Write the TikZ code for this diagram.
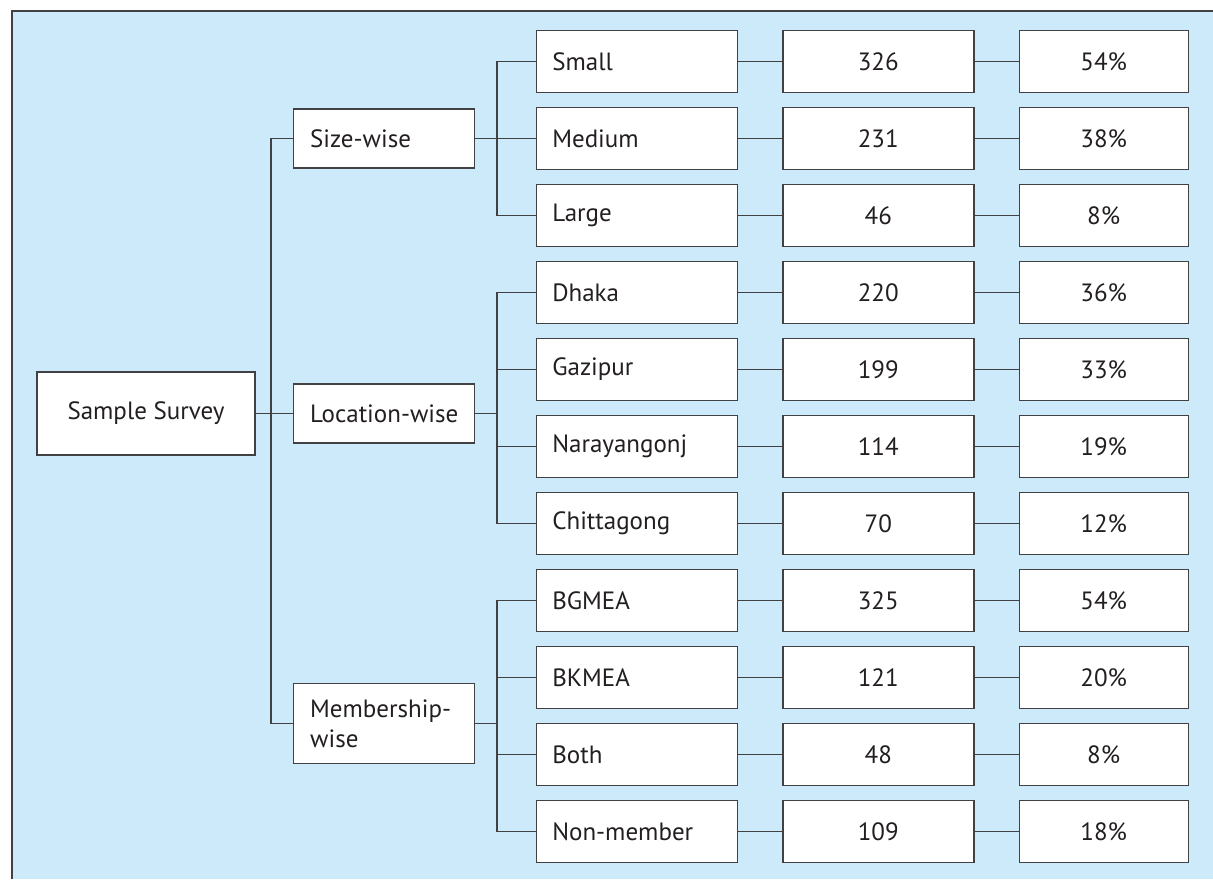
\documentclass[tikz,border=0pt]{standalone}
\usepackage{fontspec}
\setmainfont{PT Sans}
\definecolor{bgblue}{RGB}{204,234,250}
\definecolor{linegray}{RGB}{65,64,66}
\definecolor{txt}{RGB}{35,31,32}

\begin{document}
\begin{tikzpicture}[x=1pt,y=-1pt,
	box/.style={shape=rectangle,draw=linegray,line width=1.4pt,fill=white,text=txt,font=\fontsize{25}{30}\selectfont,minimum height=62pt,inner ysep=0pt},
	cat/.style={box,text width=169pt,inner xsep=16pt,align=left},
	grp/.style={box,text width=147pt,inner xsep=17pt,align=left,minimum height=59pt},
	num/.style={box,minimum width=191pt},
	pct/.style={box,minimum width=169pt},
	link/.style={draw=linegray,line width=1.2pt}]
	\useasboundingbox (0,0) rectangle (1213,879);
	% background panel
	\fill[bgblue] (12,11) rectangle (1213,879);
	\draw[linegray,line width=1.5pt] (12,879) -- (12,11) -- (1213,11);
	\coordinate (s1) at (271,0);
	\coordinate (s2) at (497,0);
	% root and groups
	\node[box,minimum width=218pt,minimum height=83pt](root) at (146,413.5) {Sample Survey};
	\node[grp](size) at (383.7,138.5) {Size-wise};
	\node[grp](loc) at (383.7,413.5) {\mbox{Location-wise}};
	\node[grp,minimum height=80pt](memb) at (383.7,723.5) {Membership-\\wise};
	% categories
	\node[cat](small) at (636.8,61.5) {Small};
	\node[cat](medium) at (636.8,138.5) {Medium};
	\node[cat](large) at (636.8,215.5) {Large};
	\node[cat](dhaka) at (636.8,292.5) {Dhaka};
	\node[cat](gazi) at (636.8,369.5) {Gazipur};
	\node[cat](nara) at (636.8,446.5) {Narayangonj};
	\node[cat](chit) at (636.8,523.5) {Chittagong};
	\node[cat](bgmea) at (636.8,600.5) {BGMEA};
	\node[cat](bkmea) at (636.8,677.5) {BKMEA};
	\node[cat](both) at (636.8,754.5) {Both};
	\node[cat](nonm) at (636.8,831.5) {Non-member};
	% counts
	\node[num](n1) at (878.3,61.5) {326};
	\node[num](n2) at (878.3,138.5) {231};
	\node[num](n3) at (878.3,215.5) {46};
	\node[num](n4) at (878.3,292.5) {220};
	\node[num](n5) at (878.3,369.5) {199};
	\node[num](n6) at (878.3,446.5) {114};
	\node[num](n7) at (878.3,523.5) {70};
	\node[num](n8) at (878.3,600.5) {325};
	\node[num](n9) at (878.3,677.5) {121};
	\node[num](n10) at (878.3,754.5) {48};
	\node[num](n11) at (878.3,831.5) {109};
	% shares
	\node[pct](p1) at (1103.7,61.5) {54\%};
	\node[pct](p2) at (1103.7,138.5) {38\%};
	\node[pct](p3) at (1103.7,215.5) {8\%};
	\node[pct](p4) at (1103.7,292.5) {36\%};
	\node[pct](p5) at (1103.7,369.5) {33\%};
	\node[pct](p6) at (1103.7,446.5) {19\%};
	\node[pct](p7) at (1103.7,523.5) {12\%};
	\node[pct](p8) at (1103.7,600.5) {54\%};
	\node[pct](p9) at (1103.7,677.5) {20\%};
	\node[pct](p10) at (1103.7,754.5) {8\%};
	\node[pct](p11) at (1103.7,831.5) {18\%};
	% tree lines
	\draw[link] (root) -- (loc);
	\draw[link] (size.west) -- (size.west -| s1) |- (memb.west);
	\draw[link] (size) -- (medium);
	\draw[link] (small.west) -- (small.west -| s2) |- (large.west);
	\draw[link] (loc.east) -- (loc.east -| s2);
	\draw[link] (dhaka.west) -- (dhaka.west -| s2) |- (chit.west);
	\draw[link] (gazi.west) -- (gazi.west -| s2);
	\draw[link] (nara.west) -- (nara.west -| s2);
	\draw[link] (memb.east) -- (memb.east -| s2);
	\draw[link] (bgmea.west) -- (bgmea.west -| s2) |- (nonm.west);
	\draw[link] (bkmea.west) -- (bkmea.west -| s2);
	\draw[link] (both.west) -- (both.west -| s2);
	% rows
	\draw[link] (small) -- (n1) -- (p1);
	\draw[link] (medium) -- (n2) -- (p2);
	\draw[link] (large) -- (n3) -- (p3);
	\draw[link] (dhaka) -- (n4) -- (p4);
	\draw[link] (gazi) -- (n5) -- (p5);
	\draw[link] (nara) -- (n6) -- (p6);
	\draw[link] (chit) -- (n7) -- (p7);
	\draw[link] (bgmea) -- (n8) -- (p8);
	\draw[link] (bkmea) -- (n9) -- (p9);
	\draw[link] (both) -- (n10) -- (p10);
	\draw[link] (nonm) -- (n11) -- (p11);
\end{tikzpicture}
\end{document}
